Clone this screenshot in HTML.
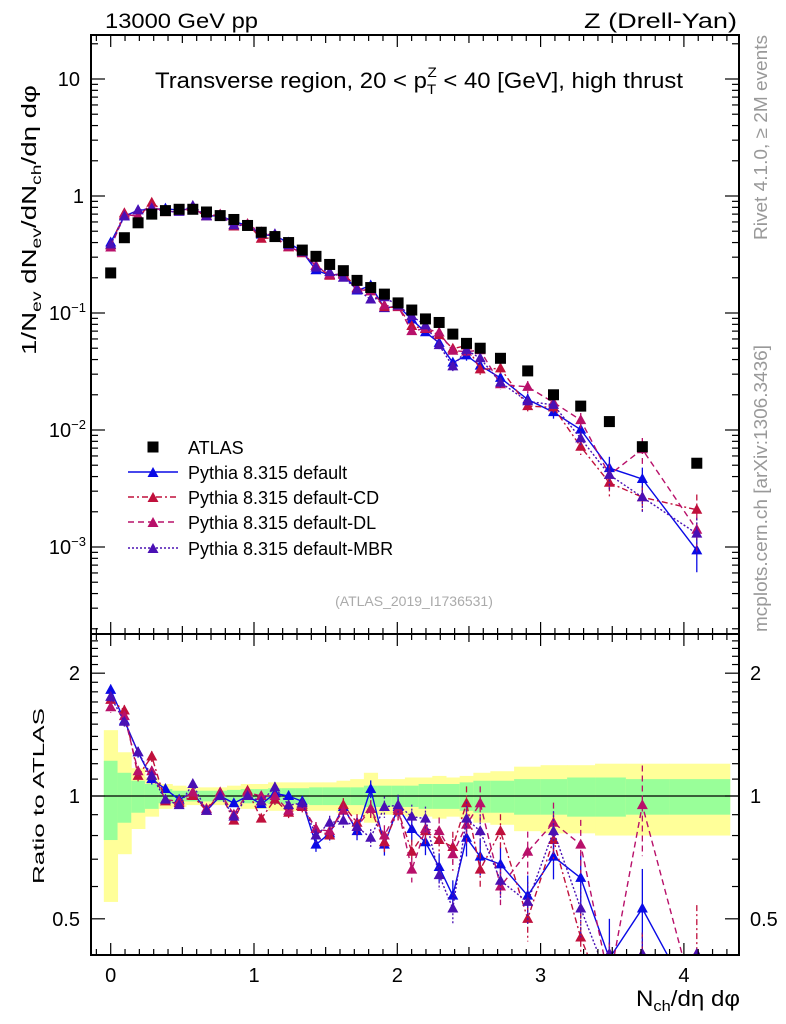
<!DOCTYPE html>
<html><head><meta charset="utf-8"><style>
html,body{margin:0;padding:0;background:#fff;}
svg{display:block;font-family:"Liberation Sans","DejaVu Sans",sans-serif;}
</style></head><body>
<svg id="c" width="786" height="1024" viewBox="0 0 786 1024" xmlns="http://www.w3.org/2000/svg">
<g id="bands"></g>
<g id="marks"></g>
<g id="axes"></g>
<text x="105" y="28" font-size="21" textLength="153" lengthAdjust="spacingAndGlyphs">13000 GeV pp</text>
<text x="584" y="28" font-size="21" textLength="153" lengthAdjust="spacingAndGlyphs">Z (Drell-Yan)</text>
<text x="155" y="88" font-size="22" textLength="528" lengthAdjust="spacingAndGlyphs">Transverse region, 20 &lt; p<tspan font-size="14" dy="6">T</tspan><tspan font-size="14" dx="-8" dy="-17">Z</tspan><tspan dy="11"> &lt; 40 [GeV], high thrust</tspan></text>
<text transform="translate(36,355) rotate(-90)" font-size="20" textLength="270" lengthAdjust="spacingAndGlyphs">1/N<tspan font-size="14" dy="5">ev</tspan><tspan dy="-5"> dN</tspan><tspan font-size="14" dy="5">ev</tspan><tspan dy="-5">/dN</tspan><tspan font-size="14" dy="5">ch</tspan><tspan dy="-5">/dη dφ</tspan></text>
<text transform="translate(44,884) rotate(-90)" font-size="16" textLength="176" lengthAdjust="spacingAndGlyphs">Ratio to ATLAS</text>
<text x="636" y="1006" font-size="22" textLength="104" lengthAdjust="spacingAndGlyphs">N<tspan font-size="15" dy="5">ch</tspan><tspan dy="-5">/dη dφ</tspan></text>
<text transform="translate(767,240) rotate(-90)" font-size="18" fill="#999" textLength="205" lengthAdjust="spacingAndGlyphs">Rivet 4.1.0, ≥ 2M events</text>
<text transform="translate(767,632) rotate(-90)" font-size="18" fill="#999" textLength="287" lengthAdjust="spacingAndGlyphs">mcplots.cern.ch [arXiv:1306.3436]</text>
<text x="414" y="606" font-size="14" fill="#aaa" text-anchor="middle">(ATLAS_2019_I1736531)</text>
<g id="legend"></g>
</svg>
<script>
const xVals=[0,0.0955,0.191,0.2865,0.382,0.4775,0.573,0.6685,0.764,0.8595,0.955,1.0505,1.146,1.2415,1.337,1.4325,1.528,1.6235,1.719,1.8145,1.91,2.0055,2.101,2.1965,2.292,2.3875,2.483,2.5785,2.72,2.91,3.09,3.28,3.48,3.71,4.09];
const atlas=[0.22,0.44,0.59,0.70,0.75,0.77,0.77,0.73,0.68,0.63,0.56,0.49,0.45,0.40,0.345,0.305,0.26,0.23,0.19,0.165,0.145,0.122,0.106,0.089,0.083,0.066,0.055,0.050,0.041,0.032,0.020,0.016,0.0118,0.0072,0.0052];
const rDefault=[1.82,1.53,1.28,1.10,1.04,0.98,1.02,0.92,1.0,0.96,1.0,0.955,1.015,1.0,0.97,0.76,0.81,0.94,0.82,1.04,0.76,0.94,0.83,0.77,0.67,0.57,0.79,0.71,0.68,0.57,0.71,0.63,0.40,0.53,0.18];
const rCD=[1.72,1.62,1.12,1.25,0.97,0.96,1.0,0.92,1.02,0.87,1.03,0.88,0.98,0.91,0.94,0.83,0.80,0.95,0.86,0.93,0.77,0.92,0.73,0.82,0.78,0.75,0.96,0.66,0.82,0.50,0.78,0.45,0.30,0.37,0.40];
const rDL=[1.65,1.57,1.15,1.15,0.98,0.97,1.02,0.93,1.02,0.90,1.02,1.0,1.0,0.92,0.95,0.83,0.82,0.92,0.84,0.93,0.80,0.93,0.66,0.83,0.82,0.72,0.85,0.96,0.60,0.73,0.86,0.76,0.35,0.95,0.27];
const rMBR=[1.75,1.52,1.28,1.12,0.98,0.95,1.07,0.92,1.0,0.89,1.0,0.97,1.05,0.95,0.96,0.80,0.86,0.87,0.84,0.79,0.94,0.95,0.89,0.88,0.64,0.53,0.88,0.82,0.62,0.55,0.82,0.53,0.35,0.37,0.25];
const mcErr=[0.03,0.03,0.03,0.03,0.02,0.02,0.02,0.02,0.02,0.02,0.02,0.02,0.03,0.03,0.03,0.04,0.04,0.04,0.05,0.05,0.06,0.06,0.07,0.07,0.08,0.09,0.1,0.1,0.1,0.12,0.12,0.15,0.25,0.25,0.35];
const yellowErr=[0.45,0.28,0.17,0.11,0.07,0.06,0.05,0.05,0.05,0.06,0.07,0.07,0.08,0.08,0.08,0.08,0.08,0.09,0.10,0.14,0.10,0.10,0.11,0.11,0.12,0.11,0.12,0.14,0.15,0.18,0.19,0.19,0.20,0.20,0.20];
const greenErr=[0.22,0.14,0.09,0.07,0.04,0.03,0.03,0.03,0.03,0.035,0.04,0.04,0.045,0.045,0.045,0.05,0.05,0.05,0.05,0.06,0.06,0.06,0.06,0.07,0.07,0.07,0.08,0.09,0.09,0.10,0.10,0.11,0.11,0.10,0.10];
const binEdgesLast=4.32;
const mainTicks=["10","1","10^-1","10^-2","10^-3"];
const ratioTicks=["2","1","0.5"];
const xTicks=["0","1","2","3","4"];

const NS="http://www.w3.org/2000/svg";
const L=91,R=739,T=35,M=634,B=955;
const X=v=>110.7+v*143.3;
const Ym=v=>79+(1-Math.log10(v))*117;
const Yr=v=>796-Math.log10(v)*408;
function mk(tag,attrs,parent){const e=document.createElementNS(NS,tag);for(const k in attrs)e.setAttribute(k,attrs[k]);parent.appendChild(e);return e;}
const bands=document.getElementById('bands'),marks=document.getElementById('marks'),axes=document.getElementById('axes'),leg=document.getElementById('legend');

const edges=[-0.048];
for(let i=0;i<xVals.length-1;i++)edges.push((xVals[i]+xVals[i+1])/2);
edges.push(binEdgesLast);
for(let i=0;i<xVals.length;i++){
  const y=mk('rect',{x:X(edges[i]),width:X(edges[i+1])-X(edges[i])+0.5,y:Yr(1+yellowErr[i]),height:Yr(1-yellowErr[i])-Yr(1+yellowErr[i]),fill:'#ffff99'},bands);
  
  
  const g=mk('rect',{x:X(edges[i]),width:X(edges[i+1])-X(edges[i])+0.5,y:Yr(1+greenErr[i]),height:Yr(1-greenErr[i])-Yr(1+greenErr[i]),fill:'#99ff99'},bands);
  
  
}
const one=mk('line',{x1:L,x2:R,y1:Yr(1),y2:Yr(1),stroke:'#000','stroke-width':1.2},bands);



const series=[
 {name:'default',r:rDefault,col:'#0a0ae6',dash:''},
 {name:'default-CD',r:rCD,col:'#c0103c',dash:'6,3,2,3'},
 {name:'default-DL',r:rDL,col:'#b8106a',dash:'6,4'},
 {name:'default-MBR',r:rMBR,col:'#4a10b4',dash:'2,2'}
];
function tri(cx,cy,col,parent,nm){
  const p=mk('path',{d:`M${cx},${cy-6}L${cx+5.5},${cy+4}L${cx-5.5},${cy+4}Z`,fill:col},parent);
  
  
}
const clipM=mk('clipPath',{id:'cm'},document.getElementById('c'));mk('rect',{x:L,y:T,width:R-L,height:M-T},clipM);
const clipR=mk('clipPath',{id:'cr'},document.getElementById('c'));mk('rect',{x:L,y:M,width:R-L,height:B-M},clipR);
const gm=mk('g',{'clip-path':'url(#cm)'},marks);
const gr=mk('g',{'clip-path':'url(#cr)'},marks);
series.forEach(s=>{
  let pm='',pr='';
  s.r.forEach((r,i)=>{
    const v=r*atlas[i];
    pm+=(i?'L':'M')+X(xVals[i]).toFixed(1)+','+Ym(v).toFixed(1);
    pr+=(i?'L':'M')+X(xVals[i]).toFixed(1)+','+Yr(Math.max(r,0.3)).toFixed(1);
  });
  const l1=mk('path',{d:pm,fill:'none',stroke:s.col,'stroke-width':1.4,'stroke-dasharray':s.dash},gm);
  
  
  const l2=mk('path',{d:pr,fill:'none',stroke:s.col,'stroke-width':1.4,'stroke-dasharray':s.dash},gr);
  
  
  s.r.forEach((r,i)=>{
    const v=r*atlas[i],e=mcErr[i],x=X(xVals[i]);
    const eb=mk('line',{x1:x,x2:x,y1:Ym(v*(1+e)),y2:Ym(v*Math.max(1-e,0.05)),stroke:s.col,'stroke-width':1.3,'stroke-dasharray':s.dash},gm);
    
    
    tri(x,Ym(v),s.col,gm,'point-'+s.name);
    const eb2=mk('line',{x1:x,x2:x,y1:Yr(r*(1+e)),y2:Yr(Math.max(r*(1-e),0.3)),stroke:s.col,'stroke-width':1.3,'stroke-dasharray':s.dash},gr);
    
    
    tri(x,Yr(Math.max(r,0.41)),s.col,gr,'ratio-point-'+s.name);
  });
});
atlas.forEach((v,i)=>{
  const s=mk('rect',{x:X(xVals[i])-5.5,y:Ym(v)-5.5,width:11,height:11,fill:'#000'},gm);
  
  
});

[[L,T,R-L,M-T],[L,M,R-L,B-M]].forEach(([x,y,w,h],k)=>{
  const f=mk('rect',{x,y,width:w,height:h,fill:'none',stroke:'#000','stroke-width':2},axes);
  
  
});
function tick(x1,y1,x2,y2){const t=mk('line',{x1,y1,x2,y2,stroke:'#000','stroke-width':1.2},axes);}
function label(x,y,txt,anchor,size){
  const t=mk('text',{x,y,'font-size':size||19,'text-anchor':anchor},axes);
  
  
  const m=txt.match(/^10\^(.*)$/);
  if(m){t.textContent='10';const s=mk('tspan',{dy:-8,'font-size':13},t);s.textContent=m[1].replace('-','−');}
  else t.textContent=txt;
}
for(let k=-1;k<=44;k++){
  const v=k/10,x=X(v);if(x<L+1||x>R-1)continue;
  const len=k%10===0?12:(k%5===0?8:6);
  [[T,1],[M,-1],[M,1],[B,-1]].forEach(([y,d])=>tick(x,y,x,y+d*len));
}
xTicks.forEach((t,i)=>label(X(i),982,t,'middle',20));
for(let d=-4;d<=1;d++){
  for(let m=1;m<=9;m++){
    const v=m*Math.pow(10,d),y=Ym(v);if(y<T+1||y>M-1)continue;
    const len=m===1?14:7;
    tick(L,y,L+len,y);tick(R,y,R-len,y);
  }
}
mainTicks.forEach((t,i)=>label(i===0?80:(i===1?84:86),Ym(Math.pow(10,1-i))+7,t,'end',20));
for(let v=0.4;v<=2.5;v=Math.round((v+0.1)*10)/10){
  const y=Yr(v);if(y<M+1||y>B-1)continue;
  const len=(v===1||v===2||v===0.5)?14:7;
  tick(L,y,L+len,y);tick(R,y,R-len,y);
}
ratioTicks.forEach(t=>{const v=parseFloat(t);label(80,Yr(v)+7,t,'end',20);label(750,Yr(v)+7,t,'start',20);});

const ly=[447,472,497,522,548];
const ls=mk('rect',{x:147.5,y:ly[0]-5.5,width:11,height:11,fill:'#000'},leg);


const names=['ATLAS','Pythia 8.315 default','Pythia 8.315 default-CD','Pythia 8.315 default-DL','Pythia 8.315 default-MBR'];
names.forEach((n,i)=>{
  const t=mk('text',{x:188,y:ly[i]+7,'font-size':18},leg);t.textContent=n;
  
  
});
series.forEach((s,i)=>{
  const l=mk('line',{x1:128,x2:178,y1:ly[i+1],y2:ly[i+1],stroke:s.col,'stroke-width':1.4,'stroke-dasharray':s.dash},leg);
  
  
  tri(153,ly[i+1]+1,s.col,leg,'legend-marker-'+s.name);
});
</script>
</body></html>
